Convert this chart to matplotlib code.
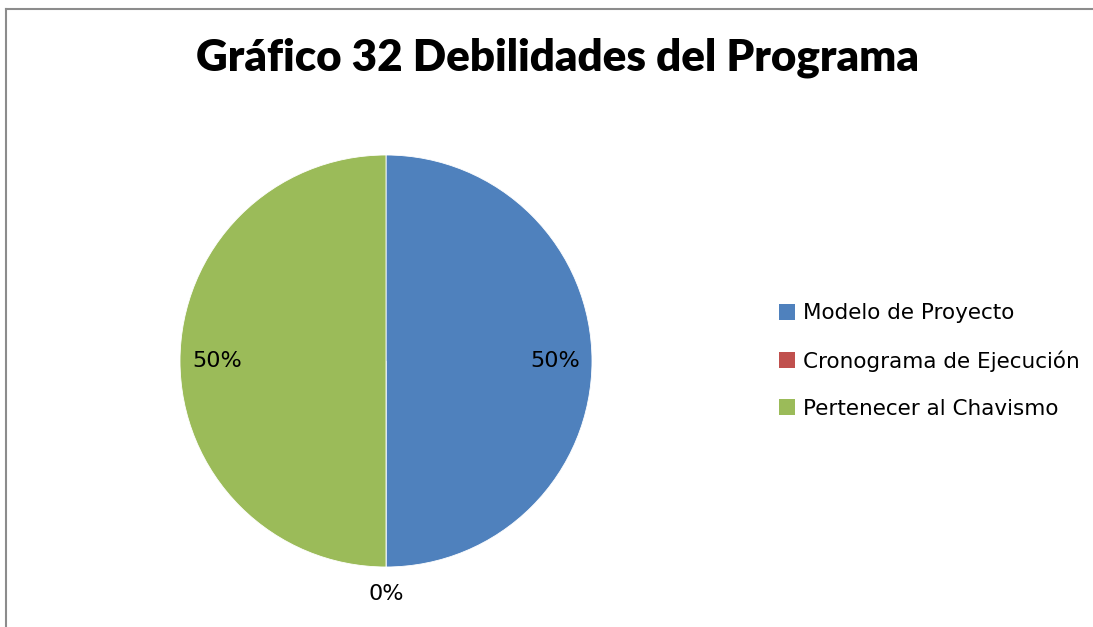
import matplotlib
matplotlib.use("Agg")
import matplotlib.pyplot as plt
from matplotlib.patches import Patch
from matplotlib.lines import Line2D
import numpy as np

title = "Gráfico 32 Debilidades del Programa"
categories = ["Modelo de Proyecto", "Cronograma de Ejecución", "Pertenecer al Chavismo"]
values = [50, 0, 50]
colors = ["#4F81BD", "#C0504D", "#9BBB59"]

W, H = 1093, 627
fig = plt.figure(figsize=(W / 100, H / 100), dpi=100)
fig.patch.set_facecolor("white")

cx, cy, r = 386, 361, 206
ax = fig.add_axes([(cx - r) / W, (H - cy - r) / H, 2 * r / W, 2 * r / H])

wedges, texts, autotexts = ax.pie(
    values, colors=colors, startangle=90, counterclock=False,
    autopct="%1.0f%%", pctdistance=0.82,
    wedgeprops=dict(edgecolor="white", linewidth=0.6),
    textprops=dict(fontsize=16, color="black", family="DejaVu Sans"),
)
ax.set_xlim(-1, 1)
ax.set_ylim(-1, 1)
ax.set_aspect("equal")
ax.axis("off")

# zero-valued slices get their label outside the pie
for w, v, t in zip(wedges, values, autotexts):
    if v == 0:
        ang = np.deg2rad((w.theta1 + w.theta2) / 2)
        t.set_position((1.13 * np.cos(ang), 1.13 * np.sin(ang)))
        t.set_clip_on(False)

ttl = fig.text(558 / W, 1 - 58 / H, title, ha="center", va="center",
               fontsize=34, fontweight="heavy", family=["Lato", "DejaVu Sans"])
# fit the title to the width of the original (about 723 px)
renderer = fig.canvas.get_renderer()
target = 723
for _ in range(4):
    wpx = ttl.get_window_extent(renderer).width
    ttl.set_fontsize(ttl.get_fontsize() * target / wpx)

handles = [Patch(facecolor=c, edgecolor="none") for c in colors]
leg = fig.legend(handles, categories, loc="center left",
                 bbox_to_anchor=(779 / W, 1 - 361 / H), frameon=False,
                 fontsize=15.5, handlelength=0.75, handleheight=0.75,
                 handletextpad=0.35, labelspacing=1.25, borderaxespad=0,
                 borderpad=0)

fig.add_artist(Line2D([5.5 / W, 5.5 / W], [0, 1 - 8.5 / H], color="#8c8c8c", lw=1.5, transform=fig.transFigure))
fig.add_artist(Line2D([5.5 / W, 1], [1 - 8.5 / H, 1 - 8.5 / H], color="#8c8c8c", lw=1.5, transform=fig.transFigure))

fig.savefig("out.png", dpi=100, facecolor="white")
